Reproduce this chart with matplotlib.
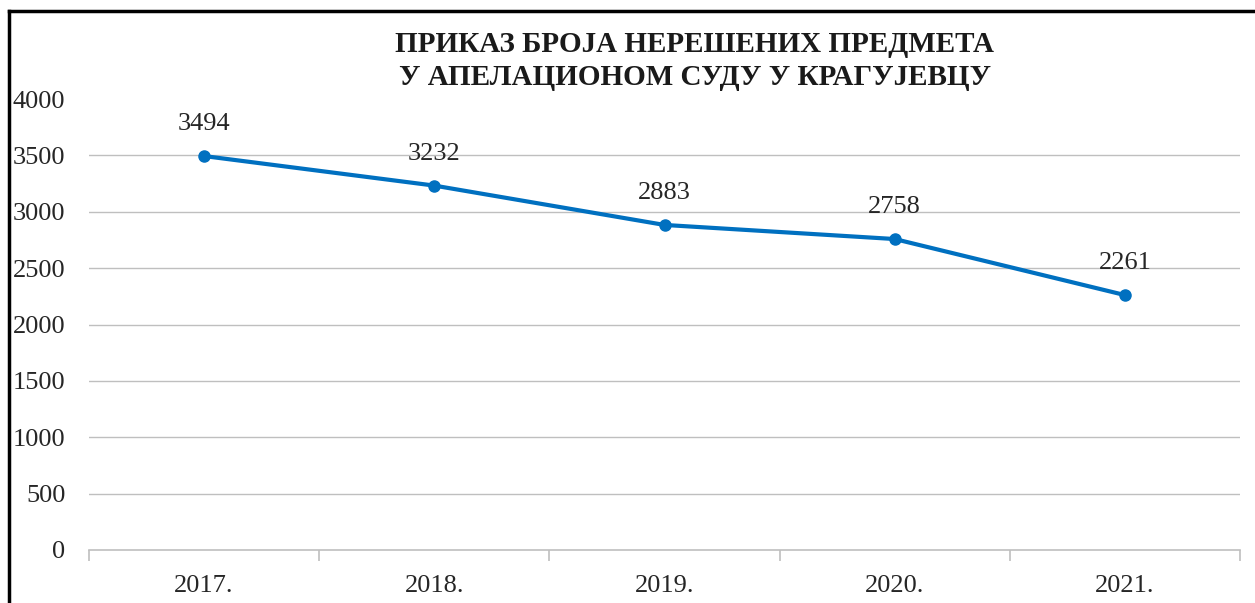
import matplotlib
matplotlib.use("Agg")
import matplotlib.pyplot as plt
from matplotlib.lines import Line2D

years = ["2017.", "2018.", "2019.", "2020.", "2021."]
values = [3494, 3232, 2883, 2758, 2261]
yticks = [0, 500, 1000, 1500, 2000, 2500, 3000, 3500, 4000]
title = "ПРИКАЗ БРОЈА НЕРЕШЕНИХ ПРЕДМЕТА\nУ АПЕЛАЦИОНОМ СУДУ У КРАГУЈЕВЦУ"

W, H = 1255, 603
plt.rcParams['font.family'] = ['Liberation Serif', 'DejaVu Serif']
fig = plt.figure(figsize=(W / 100, H / 100), dpi=100)
ax = fig.add_axes([89 / W, 1 - 550 / H, (1240 - 89) / W, (550 - 99) / H])

x = list(range(len(years)))
ax.plot(x, values, color='#0070C0', lw=3, marker='o', ms=8, zorder=3,
        solid_capstyle='round')
for xi, v in zip(x, values):
    ax.annotate(str(v), (xi, v), xytext=(0, 15), textcoords='offset points',
                ha='center', va='bottom', fontsize=19, color='#262626')

ax.set_xlim(-0.5, len(years) - 0.5)
ax.set_ylim(0, 4000)
ax.set_yticks(yticks)
ax.set_yticklabels([str(t) for t in yticks], fontsize=19, color='#262626')
ax.set_xticks(x)
ax.set_xticklabels(years, fontsize=19, color='#262626')
ax.tick_params(axis='y', length=0, pad=17)
ax.tick_params(axis='x', length=0, pad=18)
ax.set_xticks([i - 0.5 for i in range(len(years) + 1)], minor=True)
ax.tick_params(axis='x', which='minor', length=8, color='#BFBFBF', width=1.2)

for t in yticks[1:-1]:
    ax.axhline(t, color='#BFBFBF', lw=1, zorder=1)
for s in ['top', 'right', 'left']:
    ax.spines[s].set_visible(False)
ax.spines['bottom'].set_color('#BFBFBF')
ax.spines['bottom'].set_linewidth(1.2)

fig.text(695 / W, 1 - 61 / H, title, ha='center', va='center', fontsize=21,
         fontweight='bold', color='#1a1a1a', linespacing=1.27)

# partial frame (top and left)
fig.add_artist(Line2D([8.5 / W, 8.5 / W], [0, 1 - 11 / H], color='black', lw=2.5,
                      transform=fig.transFigure))
fig.add_artist(Line2D([8.5 / W, 1], [1 - 11 / H, 1 - 11 / H], color='black', lw=2.5,
                      transform=fig.transFigure))

fig.savefig("out.png", dpi=100)
